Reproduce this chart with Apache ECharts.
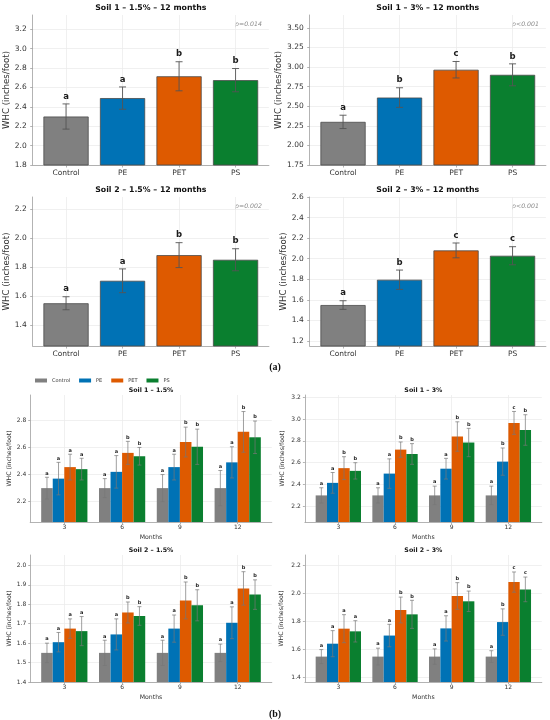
<!DOCTYPE html>
<html><head><meta charset="utf-8">
<script src="https://cdn.jsdelivr.net/npm/echarts@6/dist/echarts.min.js"></script>
<style>html,body{margin:0;padding:0;background:#fff}#c{width:550px;height:720px}</style>
</head><body><div id="c"></div>
<script>
// ---------------- DATA ----------------
const treatments = ['Control', 'PE', 'PET', 'PS'];
const months = ['3', '6', '9', '12'];
const soilNames = ['Soil 1 – 1.5%', 'Soil 1 – 3%', 'Soil 2 – 1.5%', 'Soil 2 – 3%'];
const pValues12 = ['p=0.014', 'p<0.001', 'p=0.002', 'p<0.001'];

// rows = treatments (Control, PE, PET, PS), columns = months (3, 6, 9, 12)
const soil1_15_means = [
  [2.30, 2.30, 2.30, 2.30],
  [2.37, 2.42, 2.455, 2.49],
  [2.455, 2.56, 2.64, 2.715],
  [2.44, 2.535, 2.605, 2.675]];
const soil1_15_sd = [
  [0.08, 0.07, 0.10, 0.13],
  [0.12, 0.12, 0.095, 0.115],
  [0.095, 0.085, 0.11, 0.15],
  [0.08, 0.065, 0.13, 0.12]];
const soil1_15_letters = [
  ['a', 'a', 'a', 'a'],
  ['a', 'a', 'a', 'a'],
  ['a', 'b', 'b', 'b'],
  ['a', 'b', 'b', 'b']];

const soil1_3_means = [
  [2.30, 2.30, 2.30, 2.30],
  [2.415, 2.50, 2.545, 2.61],
  [2.55, 2.72, 2.84, 2.965],
  [2.525, 2.68, 2.785, 2.90]];
const soil1_3_sd = [
  [0.07, 0.07, 0.085, 0.085],
  [0.095, 0.135, 0.095, 0.125],
  [0.105, 0.07, 0.135, 0.105],
  [0.075, 0.095, 0.13, 0.14]];
const soil1_3_letters = [
  ['a', 'a', 'a', 'a'],
  ['a', 'a', 'a', 'b'],
  ['b', 'b', 'b', 'c'],
  ['b', 'b', 'b', 'b']];

const soil2_15_means = [
  [1.55, 1.55, 1.55, 1.55],
  [1.605, 1.645, 1.675, 1.705],
  [1.675, 1.758, 1.82, 1.882],
  [1.662, 1.74, 1.795, 1.85]];
const soil2_15_sd = [
  [0.05, 0.065, 0.065, 0.045],
  [0.05, 0.08, 0.07, 0.082],
  [0.05, 0.054, 0.095, 0.086],
  [0.075, 0.048, 0.08, 0.076]];
const soil2_15_letters = [
  ['a', 'a', 'a', 'a'],
  ['a', 'a', 'a', 'a'],
  ['a', 'b', 'b', 'b'],
  ['a', 'b', 'b', 'b']];

const soil2_3_means = [
  [1.55, 1.55, 1.55, 1.55],
  [1.642, 1.70, 1.751, 1.796],
  [1.749, 1.882, 1.982, 2.081],
  [1.73, 1.851, 1.944, 2.029]];
const soil2_3_sd = [
  [0.05, 0.06, 0.055, 0.042],
  [0.093, 0.08, 0.09, 0.094],
  [0.10, 0.092, 0.095, 0.072],
  [0.076, 0.10, 0.073, 0.088]];
const soil2_3_letters = [
  ['a', 'a', 'a', 'a'],
  ['a', 'a', 'a', 'b'],
  ['a', 'b', 'b', 'c'],
  ['a', 'b', 'b', 'c']];

const allMeans = [soil1_15_means, soil1_3_means, soil2_15_means, soil2_3_means];
const allSd = [soil1_15_sd, soil1_3_sd, soil2_15_sd, soil2_3_sd];
const allLetters = [soil1_15_letters, soil1_3_letters, soil2_15_letters, soil2_3_letters];

// ---------------- STYLE / LAYOUT ----------------
const FONT = 'DejaVu Sans';
const colors = ['#808080', '#0072B5', '#DE5A00', '#0A7F2F'];
const XMIN = -0.59, XMAX = 3.59;
const LAST = months.length - 1;

function tickList(a, b, s) { const r = []; for (let v = a; v <= b + 1e-9; v += s) r.push(+v.toFixed(4)); return r; }

const panelsA = [
  { left: 32.7, top: 15, width: 236.2, height: 150, min: 1.8, max: 3.347, t: [1.8, 3.2, 0.2], dec: 1, nameGap: 18.5 },
  { left: 309.7, top: 15, width: 236.2, height: 150, min: 1.75, max: 3.663, t: [1.75, 3.5, 0.25], dec: 2, nameGap: 25 },
  { left: 32.7, top: 197, width: 236.2, height: 149, min: 1.255, max: 2.283, t: [1.4, 2.2, 0.2], dec: 1, nameGap: 19 },
  { left: 309.7, top: 197, width: 236.2, height: 149, min: 1.152, max: 2.6, t: [1.2, 2.6, 0.2], dec: 1, nameGap: 21 }
];
const panelsB = [
  { left: 30.2, top: 395, width: 241.6, height: 127, min: 2.05, max: 2.987, t: [2.2, 2.8, 0.2], dec: 1, nameGap: 16 },
  { left: 304.9, top: 395, width: 236.9, height: 127, min: 2.056, max: 3.221, t: [2.2, 3.2, 0.2], dec: 1, nameGap: 20 },
  { left: 30.2, top: 555, width: 241.6, height: 127, min: 1.40, max: 2.054, t: [1.4, 2.0, 0.1], dec: 1, nameGap: 17 },
  { left: 304.9, top: 555, width: 236.9, height: 127, min: 1.369, max: 2.274, t: [1.4, 2.2, 0.2], dec: 1, nameGap: 20.5 }
];

const grids = [], xAxes = [], yAxes = [], series = [], graphics = [];
const axisLineStyle = { color: '#a0a0a0', width: 0.8 };
const splitStyle = { color: '#e9e9e9', width: 0.7 };

function errRenderer(letters, cap, color, lw, fs, gap) {
  return function (params, api) {
    const x = api.value(0), lo = api.value(1), hi = api.value(2);
    const pH = api.coord([x, hi]), pL = api.coord([x, lo]);
    const st = { stroke: color, lineWidth: lw };
    return {
      type: 'group', children: [
        { type: 'line', shape: { x1: pH[0], y1: pH[1], x2: pL[0], y2: pL[1] }, style: st },
        { type: 'line', shape: { x1: pH[0] - cap, y1: pH[1], x2: pH[0] + cap, y2: pH[1] }, style: st },
        { type: 'line', shape: { x1: pL[0] - cap, y1: pL[1], x2: pL[0] + cap, y2: pL[1] }, style: st },
        { type: 'text', x: pH[0], y: pH[1] - gap, style: { text: letters[params.dataIndex], align: 'center', verticalAlign: 'bottom', textAlign: 'center', textVerticalAlign: 'bottom', fontSize: fs, fontWeight: 'bold', fontFamily: FONT, fill: '#1a1a1a' } }
      ]
    };
  };
}

// Panel (a): 12 months
panelsA.forEach((p, i) => {
  grids.push({ left: p.left, top: p.top, width: p.width, height: p.height, containLabel: false });
  const cv = treatments.map((_, k) => k);
  xAxes.push({
    type: 'value', gridIndex: i, min: XMIN, max: XMAX,
    axisLine: { show: true, onZero: false, lineStyle: axisLineStyle },
    axisTick: { show: true, length: 2.5, lineStyle: axisLineStyle, customValues: cv },
    axisLabel: { customValues: cv, formatter: v => treatments[Math.round(v)], fontSize: 7.5, color: '#333', margin: 4.5, fontFamily: FONT },
    splitLine: { show: true, lineStyle: splitStyle }
  });
  const tv = tickList(p.t[0], p.t[1], p.t[2]);
  yAxes.push({
    type: 'value', gridIndex: i, min: p.min, max: p.max,
    name: 'WHC (inches/foot)', nameLocation: 'middle', nameGap: p.nameGap,
    nameTextStyle: { fontSize: 8.6, color: '#333', fontFamily: FONT },
    axisLine: { show: true, onZero: false, lineStyle: axisLineStyle },
    axisTick: { show: true, length: 2.5, lineStyle: axisLineStyle, customValues: tv },
    axisLabel: { customValues: tv, formatter: v => v.toFixed(p.dec), fontSize: 7.5, color: '#333', margin: 6, fontFamily: FONT },
    splitLine: { show: true, lineStyle: splitStyle }
  });
  const means = allMeans[i], sd = allSd[i], lets = allLetters[i];
  series.push({
    type: 'bar', name: 'a' + i, xAxisIndex: i, yAxisIndex: i,
    barWidth: 0.8 * p.width / (XMAX - XMIN),
    data: treatments.map((t, k) => ({ value: [k, means[k][LAST]], itemStyle: { color: colors[k] } })),
    itemStyle: { borderColor: '#4a4a4a', borderWidth: 0.8 }, z: 2
  });
  series.push({
    type: 'custom', name: 'ea' + i, xAxisIndex: i, yAxisIndex: i, z: 5, clip: false,
    renderItem: errRenderer(treatments.map((t, k) => lets[k][LAST]), 3.5, '#555', 0.9, 8.5, 3),
    data: treatments.map((t, k) => [k, means[k][LAST] - sd[k][LAST], means[k][LAST] + sd[k][LAST]])
  });
  graphics.push({ type: 'text', x: p.left + p.width / 2, y: p.top - 7, style: { text: soilNames[i] + ' – 12 months', textAlign: 'center', textVerticalAlign: 'middle', align: 'center', verticalAlign: 'middle', fontSize: 7.8, fontWeight: 'bold', fontFamily: FONT, fill: '#111' } });
  graphics.push({ type: 'text', x: p.left + p.width - 7, y: p.top + 9, style: { text: pValues12[i], textAlign: 'right', textVerticalAlign: 'middle', align: 'right', verticalAlign: 'middle', fontSize: 6.2, fontStyle: 'italic', fontFamily: FONT, fill: '#8a8a8a' } });
});

// Panel (b): by month
panelsB.forEach((p, j) => {
  const gi = 4 + j;
  grids.push({ left: p.left, top: p.top, width: p.width, height: p.height, containLabel: false });
  const cv = months.map((_, m) => m);
  xAxes.push({
    type: 'value', gridIndex: gi, min: XMIN, max: XMAX,
    name: 'Months', nameLocation: 'middle', nameGap: 12,
    nameTextStyle: { fontSize: 6.2, color: '#333', fontFamily: FONT },
    axisLine: { show: true, onZero: false, lineStyle: axisLineStyle },
    axisTick: { show: true, length: 2, lineStyle: axisLineStyle, customValues: cv },
    axisLabel: { customValues: cv, formatter: v => months[Math.round(v)], fontSize: 6, color: '#333', margin: 2.7, fontFamily: FONT },
    splitLine: { show: true, lineStyle: splitStyle }
  });
  const tv = tickList(p.t[0], p.t[1], p.t[2]);
  yAxes.push({
    type: 'value', gridIndex: gi, min: p.min, max: p.max,
    name: 'WHC (inches/foot)', nameLocation: 'middle', nameGap: p.nameGap,
    nameTextStyle: { fontSize: 6.2, color: '#333', fontFamily: FONT },
    axisLine: { show: true, onZero: false, lineStyle: axisLineStyle },
    axisTick: { show: true, length: 2, lineStyle: axisLineStyle, customValues: tv },
    axisLabel: { customValues: tv, formatter: v => v.toFixed(p.dec), fontSize: 6, color: '#333', margin: 4, fontFamily: FONT },
    splitLine: { show: true, lineStyle: splitStyle }
  });
  const means = allMeans[j], sd = allSd[j], lets = allLetters[j];
  const bw = 0.2 * p.width / (XMAX - XMIN);
  const errData = [], errLetters = [];
  treatments.forEach((t, k) => {
    const off = (k - 1.5) * 0.2;
    series.push({
      type: 'bar', name: t, xAxisIndex: gi, yAxisIndex: gi,
      barWidth: bw, barGap: '-100%', z: 2,
      itemStyle: { color: colors[k] },
      data: months.map((m, mi) => [mi + off, means[k][mi]])
    });
    months.forEach((m, mi) => {
      errData.push([mi + off, means[k][mi] - sd[k][mi], means[k][mi] + sd[k][mi]]);
      errLetters.push(lets[k][mi]);
    });
  });
  series.push({
    type: 'custom', name: 'eb' + j, xAxisIndex: gi, yAxisIndex: gi, z: 5, clip: false,
    renderItem: errRenderer(errLetters, 2, '#777', 0.7, 5, 1.5),
    data: errData
  });
  graphics.push({ type: 'text', x: p.left + p.width / 2, y: p.top - 5, style: { text: soilNames[j], textAlign: 'center', textVerticalAlign: 'middle', align: 'center', verticalAlign: 'middle', fontSize: 6.3, fontWeight: 'bold', fontFamily: FONT, fill: '#111' } });
});

graphics.push({ type: 'text', x: 275, y: 367, style: { text: '(a)', textAlign: 'center', textVerticalAlign: 'middle', align: 'center', verticalAlign: 'middle', fontSize: 10, fontWeight: 'bold', fontFamily: 'Liberation Serif', fill: '#111' } });
graphics.push({ type: 'text', x: 275, y: 714, style: { text: '(b)', textAlign: 'center', textVerticalAlign: 'middle', align: 'center', verticalAlign: 'middle', fontSize: 10, fontWeight: 'bold', fontFamily: 'Liberation Serif', fill: '#111' } });

const chart = echarts.init(document.getElementById('c'), null, { renderer: 'canvas' });
chart.setOption({
  backgroundColor: '#fff',
  animation: false,
  textStyle: { fontFamily: FONT },
  legend: {
    data: treatments, left: 35, top: 378, itemWidth: 12, itemHeight: 4, itemGap: 9, icon: 'rect',
    textStyle: { fontSize: 5, color: '#333', fontFamily: FONT }, padding: 0
  },
  grid: grids, xAxis: xAxes, yAxis: yAxes, series: series,
  graphic: { elements: graphics }
});
</script></body></html>
